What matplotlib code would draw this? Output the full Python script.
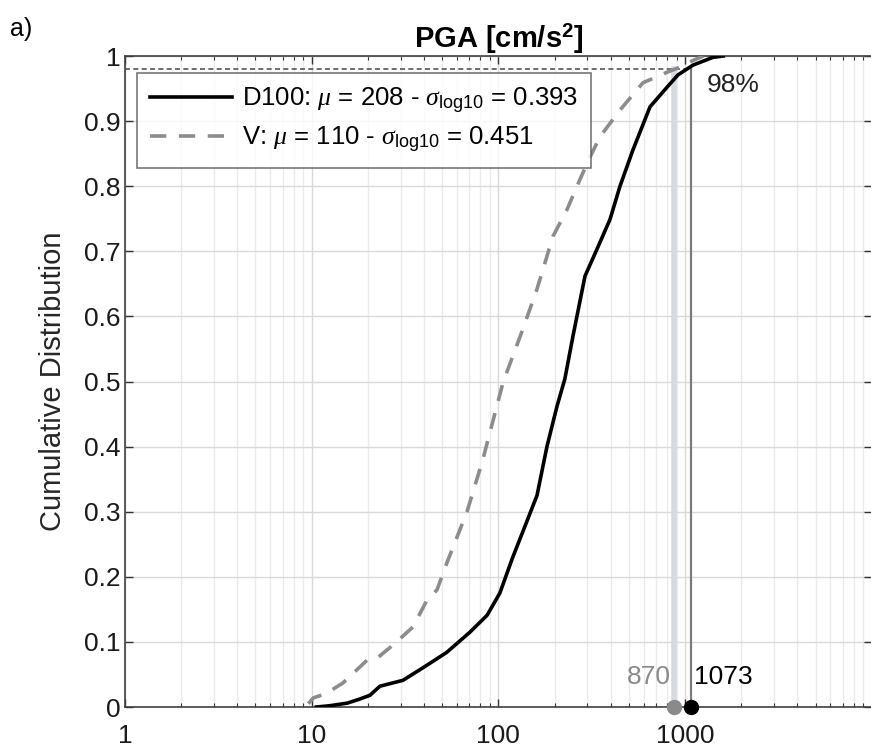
import numpy as np
import matplotlib
matplotlib.use("Agg")
import matplotlib.pyplot as plt
from matplotlib.ticker import LogLocator, FixedLocator, FuncFormatter, NullFormatter

plt.rcParams['font.family'] = ['Liberation Sans', 'DejaVu Sans']
plt.rcParams['mathtext.fontset'] = 'custom'
plt.rcParams['mathtext.rm'] = 'Liberation Sans'
plt.rcParams['mathtext.it'] = 'Liberation Serif:italic'
plt.rcParams['mathtext.bf'] = 'Liberation Sans:bold'

# ---- data ----
d100_pga = [10.6, 12.5, 15.5, 18.0, 20.5, 23.2, 30.8, 39.3, 52.9, 70.4, 87.0, 101.8, 119,
            142, 161, 182, 206, 227, 251, 291, 337, 396, 448, 526, 649, 800, 916, 1102, 1410, 1600]
d100_cdf = [0.0, 0.002, 0.006, 0.012, 0.018, 0.032, 0.041, 0.060, 0.084, 0.115, 0.141, 0.175, 0.229,
            0.285, 0.325, 0.400, 0.462, 0.504, 0.570, 0.662, 0.703, 0.749, 0.800, 0.856, 0.922, 0.952, 0.971, 0.986, 0.998, 1.0]

v_pga = [9.6, 10.2, 12.0, 14.7, 19.8, 22.4, 27.2, 34.9, 41.4, 46.9, 52.9, 58.0, 67.9, 82.7, 106,
         135, 161, 196, 233, 273, 310, 350, 448, 595, 800, 940, 1100, 1250]
v_cdf = [0.005, 0.014, 0.021, 0.037, 0.072, 0.075, 0.095, 0.123, 0.164, 0.180, 0.221, 0.250, 0.300, 0.381, 0.499,
         0.580, 0.642, 0.723, 0.764, 0.810, 0.845, 0.876, 0.917, 0.959, 0.975, 0.983, 0.993, 1.0]

d100_label = r'D100: $\mu$ = 208 - $\sigma_{\mathrm{log10}}$ = 0.393'
v_label = r'V: $\mu$ = 110 - $\sigma_{\mathrm{log10}}$ = 0.451'

p98_level = 0.98
p98_d100 = 1073
p98_v = 870

x_ticks = [1, 10, 100, 1000]
y_ticks = [0, 0.1, 0.2, 0.3, 0.4, 0.5, 0.6, 0.7, 0.8, 0.9, 1.0]

# ---- figure ----
fig = plt.figure(figsize=(8.71, 7.52), dpi=100)
ax = fig.add_axes([0.1435, 0.0598, 0.8574, 0.8657])

ax.set_xscale('log')
ax.set_xlim(1, 1e4)
ax.set_ylim(0, 1)

# percentile guides
ax.plot([p98_v, p98_v], [0, p98_level], color='#d6d9df', lw=4.0, zorder=2)
ax.plot([p98_d100, p98_d100], [0, p98_level], color='#7a7a7a', lw=1.6, zorder=2)
ax.plot([1, p98_d100], [p98_level, p98_level], color='#555555', lw=1.2,
        linestyle=(0, (3, 2)), zorder=2)

l1, = ax.plot(d100_pga, d100_cdf, color='black', lw=2.6, zorder=4, label=d100_label)
l2, = ax.plot(v_pga, v_cdf, color='#8c8c8c', lw=2.6, linestyle=(0, (4.5, 3.5)), zorder=3, label=v_label)

ax.plot([p98_v], [0], 'o', color='#8a8a8a', markersize=10, zorder=6, clip_on=False)
ax.plot([p98_d100], [0], 'o', color='black', markersize=10, zorder=7, clip_on=False)

ax.text(p98_v * 0.97, 0.046, f'{p98_v}', color='#8a8a8a', fontsize=19, ha='right', va='center')
ax.text(p98_d100 * 1.04, 0.046, f'{p98_d100}', color='black', fontsize=19, ha='left', va='center')
ax.text(1310, 0.955, '98%', color='#222222', fontsize=19, ha='left', va='center')

# grid & ticks
ax.xaxis.set_major_locator(FixedLocator(x_ticks))
ax.xaxis.set_minor_locator(LogLocator(base=10, subs=np.arange(2, 10), numticks=20))
ax.xaxis.set_minor_formatter(NullFormatter())
ax.xaxis.set_major_formatter(FuncFormatter(lambda v, p: f'{v:g}'))
ax.yaxis.set_major_locator(FixedLocator(y_ticks))
ax.yaxis.set_major_formatter(FuncFormatter(lambda v, p: f'{v:g}'))

ax.grid(True, which='major', color='#d9d9d9', lw=1.0, zorder=0)
ax.grid(True, which='minor', axis='x', color='#ebebeb', lw=1.0, zorder=0)
ax.set_axisbelow(True)

ax.tick_params(which='both', direction='in', top=True, right=True, colors='#333333',
               labelcolor='#1a1a1a', labelsize=19)
ax.tick_params(which='major', length=6, width=1)
ax.tick_params(which='minor', length=3, width=0.8)
ax.tick_params(axis='x', pad=12)
for s in ax.spines.values():
    s.set_color('#404040')
    s.set_linewidth(1.2)

ax.set_ylabel('Cumulative Distribution', fontsize=21, color='#262626', labelpad=12)
ax.set_title(r'PGA [cm/s$^{\mathbf{2}}$]', fontsize=21, fontweight='bold', pad=4)

leg = ax.legend(handles=[l1, l2], loc='upper left', bbox_to_anchor=(0.016, 0.974),
                borderaxespad=0, fontsize=18.5, frameon=True, fancybox=False,
                edgecolor='#555555', handlelength=3.2, handletextpad=0.4,
                borderpad=0.5, labelspacing=0.35)
leg.get_frame().set_linewidth(1.2)
leg.set_zorder(10)

fig.text(0.012, 0.962, 'a)', fontsize=18, ha='left', va='center')

fig.savefig('out.png', dpi=100)
